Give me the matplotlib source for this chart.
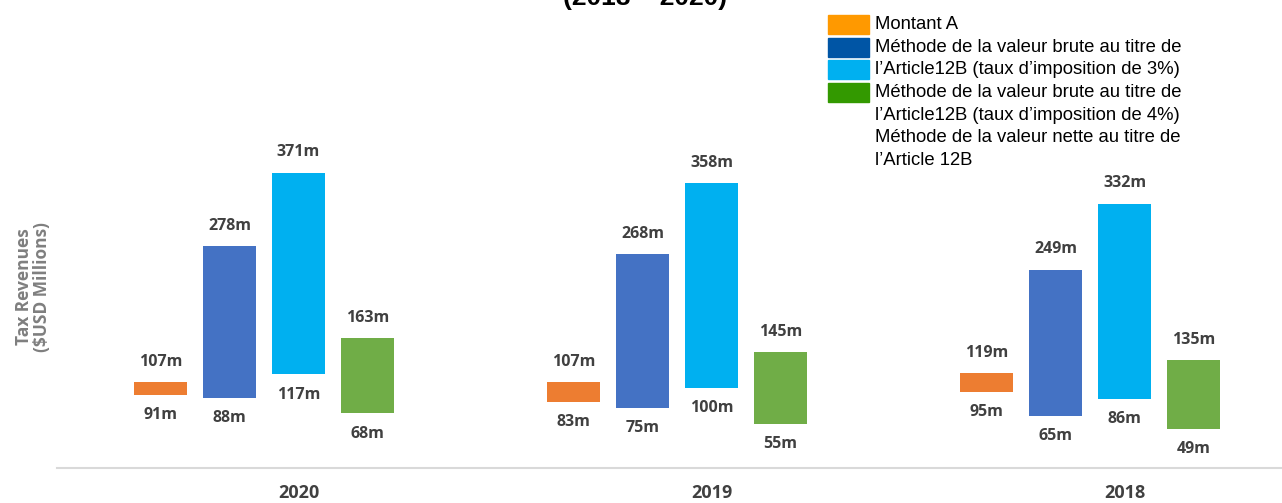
import numpy as np
import matplotlib
matplotlib.use('Agg')
import matplotlib.pyplot as plt
from matplotlib.patches import Rectangle

# données
years = ['2020', '2019', '2018']
montant_a_low = [91, 83, 95]
montant_a_high = [107, 107, 119]
brut3_low = [88, 75, 65]
brut3_high = [278, 268, 249]
brut4_low = [117, 100, 86]
brut4_high = [371, 358, 332]
net_low = [68, 55, 49]
net_high = [163, 145, 135]

legend_lines = [
    'Montant A',
    'Méthode de la valeur brute au titre de',
    'l\u2019Article12B (taux d\u2019imposition de 3%)',
    'Méthode de la valeur brute au titre de',
    'l\u2019Article12B (taux d\u2019imposition de 4%)',
    'Méthode de la valeur nette au titre de',
    'l\u2019Article 12B',
]
legend_colors = ['#FF9900', '#0055A5', '#00B0F0', '#339900']

title = '(2018 \u2013 2020)'
ylabel = 'Tax Revenues\n($USD Millions)'

bar_colors = ['#ED7D31', '#4472C4', '#00B0F0', '#70AD47']
label_color = '#404040'

W, H = 1282, 503
fig = plt.figure(figsize=(W / 100, H / 100), dpi=100)
# axe : de x=57 px au bord droit, base à y=467.5 px
ax = fig.add_axes([57 / W, 1 - 467.5 / H, (W - 57) / W, 467.5 / H])

x = np.arange(len(years))
slot = 69 / 413
width = 53 / 413
series = [
    (montant_a_low, montant_a_high),
    (brut3_low, brut3_high),
    (brut4_low, brut4_high),
    (net_low, net_high),
]
for i, (lo, hi) in enumerate(series):
    lo = np.array(lo)
    hi = np.array(hi)
    xs = x + (i - 2) * slot
    ax.bar(xs, hi - lo, bottom=lo, width=width, color=bar_colors[i], zorder=2)
    for xi, l, h in zip(xs, lo, hi):
        ax.annotate(f'{h}m', (xi, h), xytext=(0, 14.5), textcoords='offset points',
                    ha='center', va='center', fontsize=11.5, fontweight='bold',
                    color=label_color, family='Open Sans')
        ax.annotate(f'{l}m', (xi, l), xytext=(0, -14.5), textcoords='offset points',
                    ha='center', va='center', fontsize=11.5, fontweight='bold',
                    color=label_color, family='Open Sans')

ax.set_xlim((57 - 298.5) / 413, (1282 - 298.5) / 413)
ax.set_ylim(0, 467.5 / 0.795)
ax.set_xticks(x)
ax.set_xticklabels(years, fontsize=13, fontweight='bold', color=label_color,
                   family='Open Sans')
ax.tick_params(axis='x', length=0, pad=12)
ax.set_yticks([])
for s in ['top', 'right', 'left']:
    ax.spines[s].set_visible(False)
ax.spines['bottom'].set_color('#D9D9D9')
ax.spines['bottom'].set_linewidth(1.5)
ax.patch.set_visible(False)

# titre (coupé en haut, comme l'original)
fig.text(645 / W, 1 + 2 / H, title, ha='center', va='center', fontsize=19,
         fontweight='bold', family='Liberation Sans')

# axe y
fig.text(33 / W, 1 - 287 / H, ylabel, rotation=90, ha='center', va='center',
         fontsize=12.5, fontweight='bold', color='#7F7F7F', family='Open Sans',
         linespacing=1.0)

# légende manuelle
line_h = 22.7
y0 = 24.5
for i, txt in enumerate(legend_lines):
    yc = y0 + i * line_h
    fig.text(875 / W, 1 - yc / H, txt, ha='left', va='center', fontsize=13.3,
             family='Liberation Sans', color='black')
for i, c in enumerate(legend_colors):
    yc = y0 + i * line_h
    fig.patches.append(Rectangle((828 / W, 1 - (yc + 9.5) / H), 41 / W, 19 / H,
                                 transform=fig.transFigure, color=c))

fig.savefig('out.png', dpi=100)
